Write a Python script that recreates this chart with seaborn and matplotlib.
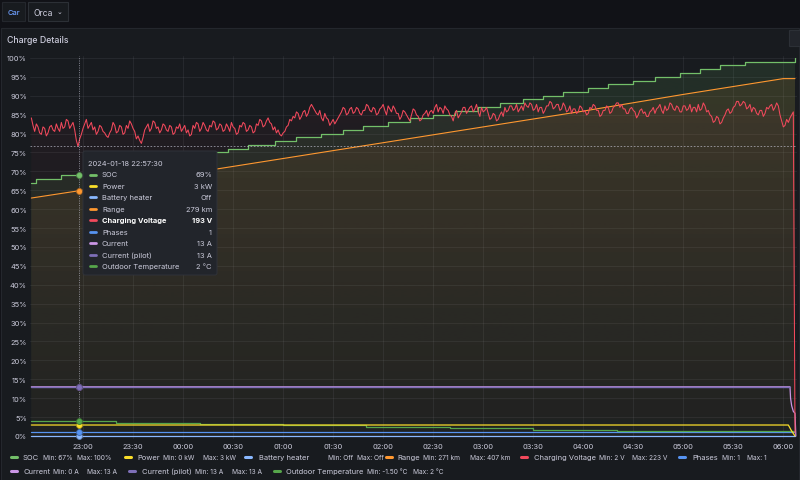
import numpy as np
import pandas as pd
import matplotlib
matplotlib.use("Agg")
import matplotlib.pyplot as plt
import matplotlib.dates as mdates
import matplotlib.colors as mcolors
from matplotlib.patches import Rectangle, FancyBboxPatch
from matplotlib.lines import Line2D
import seaborn as sns

# ---- data ----
soc_times = ["22:29", "22:32", "22:47", "23:03", "23:17", "23:32", "23:46", "00:01",
             "00:15", "00:27", "00:39", "00:55", "01:08", "01:23", "01:36", "01:48",
             "02:03", "02:16", "02:30", "02:43", "02:57", "03:10", "03:24", "03:36",
             "03:48", "04:03", "04:15", "04:30", "04:43", "04:58", "05:10", "05:22",
             "05:37", "06:07"]
soc_pct = [67, 68, 69, 70, 71, 72, 73, 74, 75, 76, 77, 78, 79, 80, 81, 82, 83,
           84, 85, 86, 87, 88, 89, 90, 91, 92, 93, 94, 95, 96, 97, 98, 99, 100]

range_times = ["22:29", "23:00", "00:00", "01:00", "02:00", "03:00", "04:00", "05:00", "06:00", "06:07"]
range_km = [271, 280, 298, 316, 334, 352, 370, 389, 407, 407]

voltage_start = "22:29"   # one reading per minute
voltage_v = [
    212, 207, 203, 208, 206, 202, 201, 206, 205, 200, 202, 206, 207, 204, 203, 208, 205, 203, 209, 205,
    206, 211, 210, 205, 207, 209, 204, 197, 193, 198, 201, 205, 208, 211, 205, 207, 209, 204, 206, 201,
    203, 207, 206, 203, 202, 200, 199, 202, 204, 209, 207, 202, 203, 207, 206, 201, 202, 207, 205, 210,
    208, 205, 203, 198, 200, 197, 195, 199, 204, 206, 208, 203, 205, 210, 209, 205, 206, 202, 204, 208,
    207, 204, 203, 207, 206, 201, 202, 206, 205, 208, 203, 205, 207, 202, 204, 200, 201, 207, 205, 209,
    208, 203, 205, 209, 207, 204, 203, 207, 206, 210, 209, 204, 205, 208, 207, 203, 204, 208, 206, 203,
    209, 206, 205, 201, 202, 207, 206, 209, 208, 203, 204, 207, 206, 202, 203, 208, 207, 211, 210, 206,
    207, 210, 212, 209, 208, 204, 206, 202, 204, 201, 200, 202, 203, 206, 207, 211, 210, 213, 212, 216,
    215, 211, 213, 216, 217, 213, 215, 219, 221, 219, 217, 215, 214, 217, 212, 210, 215, 212, 211, 207,
    209, 211, 208, 210, 212, 214, 216, 219, 218, 214, 215, 218, 219, 215, 216, 219, 218, 215, 214, 217,
    217, 221, 220, 217, 216, 219, 218, 214, 215, 218, 219, 221, 217, 214, 220, 218, 216, 220, 218, 215,
    215, 211, 213, 217, 216, 214, 212, 210, 214, 218, 217, 214, 213, 210, 211, 214, 215, 217, 213, 216,
    217, 215, 219, 221, 216, 219, 218, 215, 220, 218, 217, 214, 213, 210, 215, 217, 212, 214, 216, 219,
    219, 215, 217, 219, 220, 216, 218, 221, 216, 213, 219, 216, 217, 219, 215, 211, 212, 215, 214, 210,
    211, 214, 216, 213, 219, 216, 217, 220, 220, 217, 218, 221, 216, 218, 220, 217, 222, 220, 219, 222,
    221, 217, 218, 221, 216, 219, 219, 215, 217, 220, 220, 223, 222, 218, 219, 221, 221, 217, 218, 222,
    220, 216, 217, 220, 215, 218, 218, 215, 216, 220, 219, 216, 217, 214, 215, 219, 218, 221, 220, 217,
    217, 213, 214, 217, 217, 220, 219, 215, 216, 219, 220, 222, 222, 219, 221, 218, 218, 215, 215, 218,
    219, 217, 216, 212, 214, 217, 218, 215, 216, 213, 213, 216, 217, 219, 215, 218, 219, 221, 217, 215,
    220, 217, 218, 222, 221, 218, 217, 220, 219, 216, 216, 220, 220, 217, 218, 221, 216, 219, 219, 216,
    221, 217, 218, 222, 220, 216, 217, 214, 213, 209, 210, 213, 212, 208, 209, 212, 214, 217, 218, 215,
    216, 219, 220, 223, 223, 220, 221, 223, 222, 218, 219, 221, 216, 219, 218, 215, 214, 217, 217, 213,
    215, 219, 218, 220, 221, 217, 219, 222, 220, 214, 210, 206, 207, 211, 209, 212, 214, 216, 2,
]

current_times = ["22:29", "06:04", "06:04:20", "06:05", "06:06", "06:07", "06:07:30"]
current_a = [13, 13, 10, 8, 6.5, 6, 0]
pilot_times = ["22:29", "06:04"]
pilot_a = [13, 13]
power_times = ["22:29", "06:03", "06:05", "06:07"]
power_kw = [2.9, 2.9, 1.3, 0.0]
temp_times = ["22:29", "23:20", "00:10", "01:00", "01:50", "02:40", "03:30", "04:20", "06:07"]
temp_c = [2, 1.5, 1, 0.5, 0, -0.5, -1, -1.5, -1.5]
phases_times = ["22:29", "06:07"]
phases = [1, 1]
heater_times = ["22:29", "06:07"]
heater = [0, 0]

x_ticks = ["23:00", "23:30", "00:00", "00:30", "01:00", "01:30", "02:00", "02:30",
           "03:00", "03:30", "04:00", "04:30", "05:00", "05:30", "06:00"]

hover_time = "22:57:30"
series_names = ["SOC", "Power", "Battery heater", "Range", "Charging Voltage",
                "Phases", "Current", "Current (pilot)", "Outdoor Temperature"]
hover_text = ["69%", "3 kW", "Off", "279 km", "193 V", "1", "13 A", "13 A", "2 °C"]
hover_num = [69, 2.9, 0, 279, 193, 1, 13, 13, 2]
legend_min = ["Min: 67%", "Min: 0 kW", "Min: Off", "Min: 271 km", "Min: 2 V",
              "Min: 1", "Min: 0 A", "Min: 13 A", "Min: -1.50 °C"]
legend_max = ["Max: 100%", "Max: 3 kW", "Max: Off", "Max: 407 km", "Max: 223 V",
              "Max: 1", "Max: 13 A", "Max: 13 A", "Max: 2 °C"]
colors = ["#73BF69", "#FADE2A", "#8AB8FF", "#FF9830", "#F2495C",
          "#5794F2", "#CA95E5", "#7E6FB8", "#56A64B"]


def ts(hhmm):
    day = "2024-01-18" if hhmm >= "12:00" else "2024-01-19"
    return pd.Timestamp(f"{day} {hhmm}")


def times(lst):
    return pd.Series([ts(t) for t in lst])


# the hidden per-unit axes of the dashboard, mapped onto the percent scale
def km_to_pct(v):
    return np.asarray(v, dtype=float) / 4.306


def volt_to_pct(v):
    return np.asarray(v, dtype=float) / 2.52


def temp_to_pct(v):
    return 2.4 + 0.75 * np.asarray(v, dtype=float)


PAGE = "#111217"
PANEL = "#181b1f"
TXT = "#ccccdc"
FS = 5.4
LFS = 4.75

sns.set_style("dark", {"axes.facecolor": "none", "figure.facecolor": PAGE})
plt.rcParams["font.family"] = ["Inter", "DejaVu Sans"]

fig = plt.figure(figsize=(8, 4.81), dpi=100)

# background layer in pixel coordinates
bg = fig.add_axes([0, 0, 1, 1], zorder=0)
bg.set_xlim(0, 800)
bg.set_ylim(481, 0)
bg.axis("off")
bg.add_patch(Rectangle((1, 29), 798, 460, facecolor=PANEL, edgecolor="#24272d", lw=0.8))
bg.add_patch(Rectangle((2, 3), 23, 19, facecolor=PANEL, edgecolor="#24272d", lw=0.8))
bg.add_patch(Rectangle((28, 3), 40, 19, facecolor=PANEL, edgecolor="#2c3036", lw=0.8))
bg.add_patch(Rectangle((789, 31), 12, 16, facecolor="#22252b", edgecolor="#2c3036", lw=0.8))
bg.text(13.5, 13, "Car", color="#6E9FFF", fontsize=5.4, ha="center", va="center", weight="medium")
bg.text(33, 13, "Orca", color=TXT, fontsize=6.2, va="center")
bg.text(57, 12.5, "⌄", color=TXT, fontsize=5, va="center", family=["DejaVu Sans"])
bg.text(7, 40.5, "Charge Details", color=TXT, fontsize=6.3, va="center", weight="medium")

# legend
legend_layout = [
    (458, 10, [23, 43, 77]), (458, 124, [137, 163, 203]), (458, 244, [259, 328, 357]),
    (458, 385, [397, 423, 470]), (458, 520, [534, 599, 632]), (458, 678, [692, 722, 747]),
    (472, 10, [23, 53, 87]), (472, 128, [142, 195, 232]), (472, 273, [286, 367, 413]),
]
for i, (ly, sx, tx) in enumerate(legend_layout):
    bg.add_line(Line2D([sx + 1, sx + 7], [ly, ly], color=colors[i], lw=2.2, solid_capstyle="round"))
    for j, (s, x) in enumerate(zip([series_names[i], legend_min[i], legend_max[i]], tx)):
        bg.text(x, ly, s, color=TXT, fontsize=FS if j == 0 else LFS, va="center")

# main plot
ax = fig.add_axes([30 / 800, 41 / 481, 767 / 800, 383 / 481], zorder=1)
ax.set_facecolor("none")

t_soc = times(soc_times)
t_rng = times(range_times)
t_volt = pd.Series(pd.date_range(ts(voltage_start), periods=len(voltage_v), freq="1min"))

soc_df = pd.DataFrame({"t": t_soc, "v": soc_pct})
rng_df = pd.DataFrame({"t": t_rng, "v": km_to_pct(range_km)})
volt_df = pd.DataFrame({"t": t_volt, "v": volt_to_pct(voltage_v)})


def gradient_fill(x, y, color, a_top, a_bot, step=None):
    poly = ax.fill_between(x, y, 0, facecolor="none", edgecolor="none", step=step)
    grad = np.zeros((256, 1, 4))
    grad[..., :3] = mcolors.to_rgb(color)
    grad[..., 3] = np.linspace(a_bot, a_top, 256)[:, None]
    x0, x1 = mdates.date2num(x.min()), mdates.date2num(x.max())
    im = ax.imshow(grad, aspect="auto", origin="lower", extent=[x0, x1, 0, 100],
                   zorder=1, interpolation="bilinear")
    im.set_clip_path(poly.get_paths()[0], transform=ax.transData)


gradient_fill(soc_df["t"], soc_df["v"], colors[0], 0.13, 0.03, step="post")
gradient_fill(rng_df["t"], rng_df["v"], colors[3], 0.10, 0.02)
gradient_fill(volt_df["t"], volt_df["v"], colors[4], 0.05, 0.01)

line_kw = dict(ax=ax, x="t", y="v", lw=0.9, zorder=3)
sns.lineplot(data=pd.DataFrame({"t": times(heater_times), "v": heater}), color=colors[2], **line_kw)
sns.lineplot(data=pd.DataFrame({"t": times(phases_times), "v": phases}), color=colors[5], **line_kw)
sns.lineplot(data=pd.DataFrame({"t": times(temp_times), "v": temp_to_pct(temp_c)}),
             color=colors[8], drawstyle="steps-post", **line_kw)
sns.lineplot(data=pd.DataFrame({"t": times(power_times), "v": power_kw}), color=colors[1], **line_kw)
sns.lineplot(data=pd.DataFrame({"t": times(current_times), "v": current_a}), color=colors[6], **line_kw)
sns.lineplot(data=pd.DataFrame({"t": times(pilot_times), "v": pilot_a}), color=colors[7],
             ax=ax, x="t", y="v", lw=1.0, zorder=3)
sns.lineplot(data=rng_df, color=colors[3], ax=ax, x="t", y="v", lw=0.8, zorder=3)
sns.lineplot(data=soc_df, color=colors[0], drawstyle="steps-post", **line_kw)
sns.lineplot(data=volt_df, color=colors[4], ax=ax, x="t", y="v", lw=0.75, zorder=4)

# crosshair and hover points
th = ts(hover_time)
ax.axvline(th, color=TXT, lw=0.6, ls=(0, (1.2, 1.6)), alpha=0.7, zorder=5)
ax.axhline(volt_to_pct(hover_num[4]), color=TXT, lw=0.6, ls=(0, (2, 2)), alpha=0.7, zorder=5)
hover_y = [hover_num[0], hover_num[1], hover_num[2], float(km_to_pct(hover_num[3])),
           hover_num[5], hover_num[6], hover_num[7], float(temp_to_pct(hover_num[8]))]
hover_c = [colors[0], colors[1], colors[2], colors[3], colors[5], colors[6], colors[7], colors[8]]
for yv, c in zip(hover_y, hover_c):
    ax.scatter([th], [yv], s=18, color=c, edgecolor=mcolors.to_hex(np.array(mcolors.to_rgb(c)) * 0.7),
               linewidth=0.6, zorder=6)

ax.set_xlim(ts("22:28:12"), ts("06:08:12"))
ax.set_ylim(-0.8, 100.5)
ax.set_yticks(range(0, 101, 5))
ax.yaxis.set_major_formatter(matplotlib.ticker.FuncFormatter(lambda v, p: f"{int(v)}%"))
ax.set_xticks([ts(t) for t in x_ticks])
ax.xaxis.set_major_formatter(mdates.DateFormatter("%H:%M"))
ax.tick_params(axis="both", length=0, colors=TXT, labelsize=FS)
ax.tick_params(axis="y", pad=2.2)
ax.tick_params(axis="x", pad=2.6)
ax.grid(True, color=TXT, alpha=0.09, lw=0.6)
ax.set_xlabel("")
ax.set_ylabel("")
for sp in ax.spines.values():
    sp.set_visible(False)

# tooltip
fg = fig.add_axes([0, 0, 1, 1], zorder=3)
fg.set_xlim(0, 800)
fg.set_ylim(481, 0)
fg.axis("off")
fg.add_patch(FancyBboxPatch((83, 152), 134, 124, boxstyle="round,pad=0,rounding_size=2",
                            facecolor="#22252b", edgecolor="#30333a", lw=0.7))
fg.text(88.5, 164.3, "2024-01-18 22:57:30", color=TXT, fontsize=FS, va="center")
for i, (name, val) in enumerate(zip(series_names, hover_text)):
    ry = 175.5 + 11.45 * i
    bold = name == "Charging Voltage"
    fg.add_line(Line2D([90, 96], [ry, ry], color=colors[i], lw=2.0, solid_capstyle="round"))
    fg.text(102, ry, name, color="white" if bold else TXT, fontsize=FS, va="center",
            weight="bold" if bold else "normal")
    fg.text(212, ry, val, color="white" if bold else TXT, fontsize=FS, va="center", ha="right",
            weight="bold" if bold else "normal")

fig.savefig("out.png", dpi=100, facecolor=PAGE)
